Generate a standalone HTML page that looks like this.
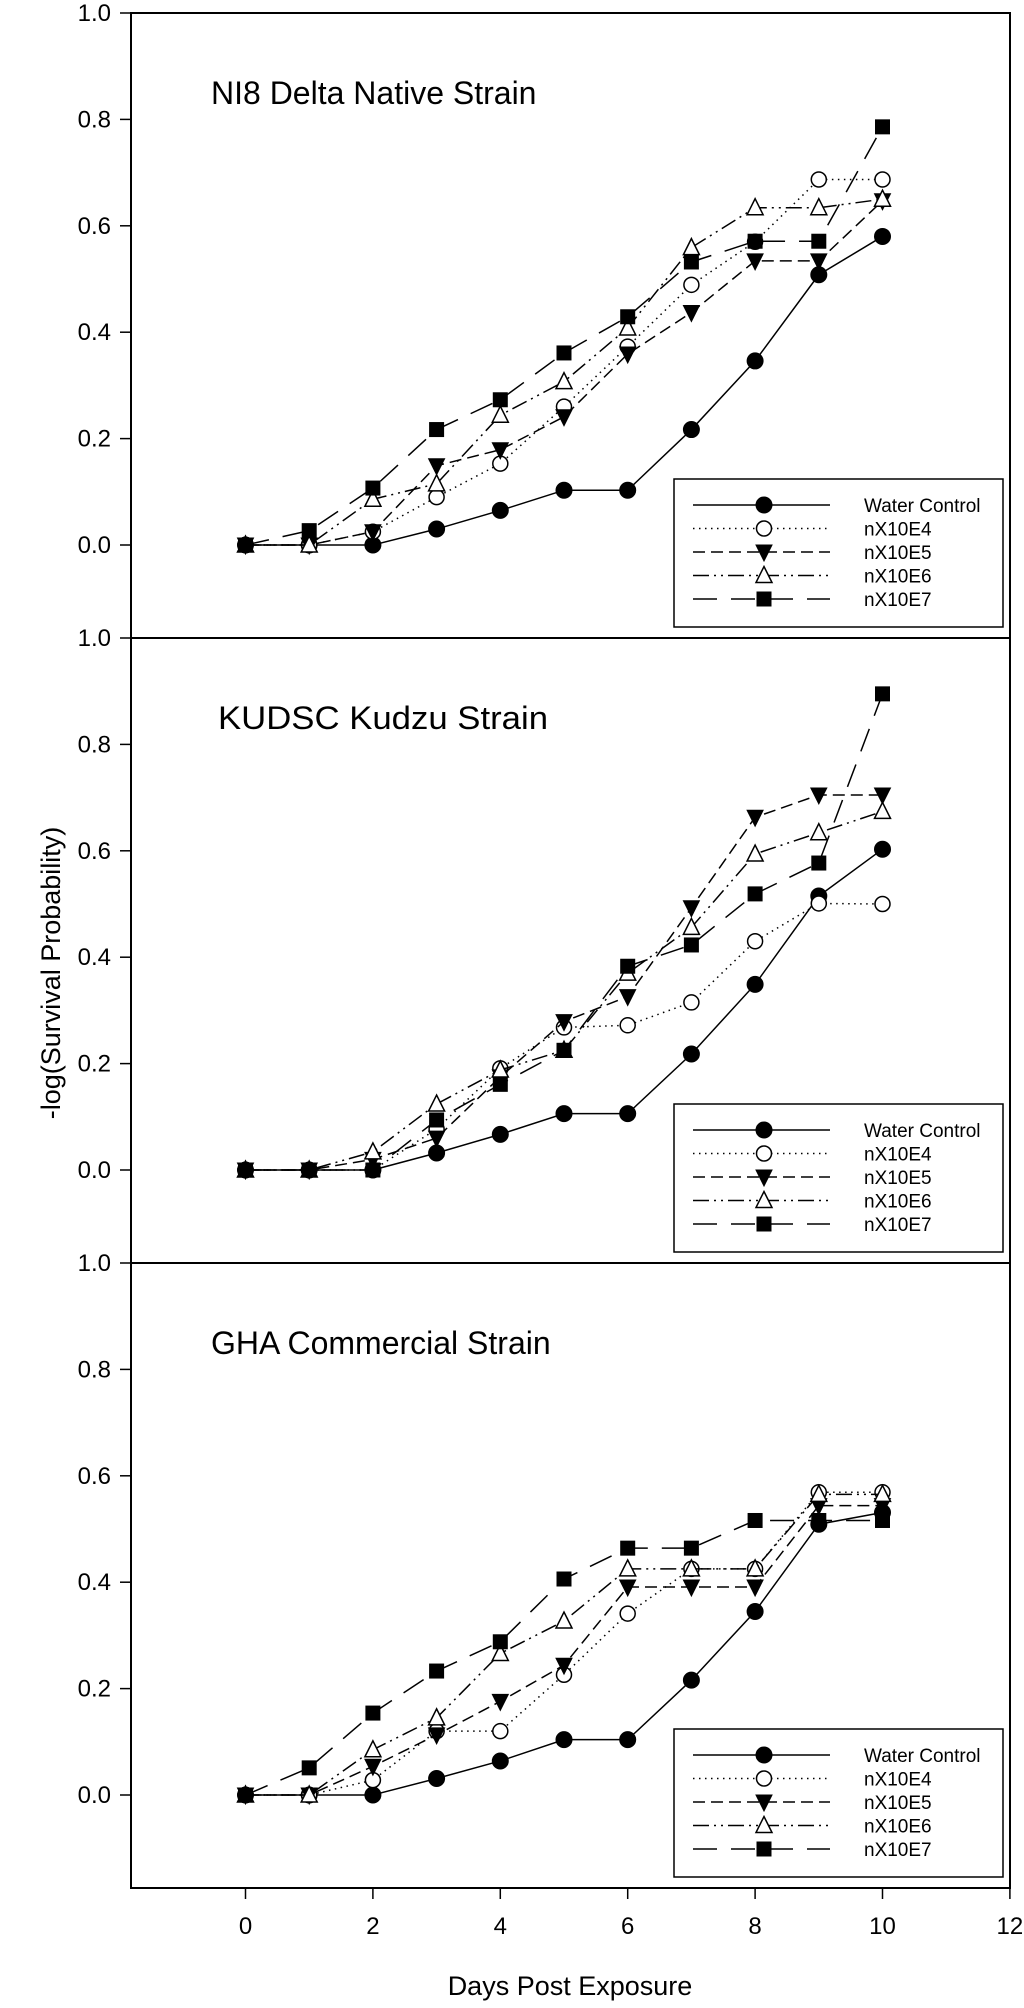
<!DOCTYPE html>
<html><head><meta charset="utf-8"><style>
html,body{margin:0;padding:0;background:#fff;}
svg{display:block;}
text{font-family:"Liberation Sans",Arial,sans-serif;fill:#000;}
</style></head><body>
<svg id="chart" width="1024" height="2008" viewBox="0 0 1024 2008" xmlns="http://www.w3.org/2000/svg"></svg>
<script>
const days = [0,1,2,3,4,5,6,7,8,9,10];
const seriesNames = ["Water Control","nX10E4","nX10E5","nX10E6","nX10E7"];
const panelTitles = ["NI8 Delta Native Strain","KUDSC Kudzu Strain","GHA Commercial Strain"];
const yTickLabels = ["0.0","0.2","0.4","0.6","0.8","1.0"];
const yTickValues = [0,0.2,0.4,0.6,0.8,1.0];
const xTickLabels = ["0","2","4","6","8","10","12"];
const xTickValues = [0,2,4,6,8,10,12];
// Panel 1: NI8
const p1Water = [0,0,0,0.03,0.065,0.103,0.103,0.217,0.346,0.508,0.58];
const p1E4 = [0,0,0.025,0.09,0.153,0.26,0.373,0.489,0.57,0.687,0.687];
const p1E5 = [0,0,0.025,0.149,0.179,0.241,0.359,0.437,0.534,0.534,0.647];
const p1E6 = [0,0,0.086,0.115,0.244,0.307,0.408,0.559,0.634,0.634,0.65];
const p1E7 = [0,0.027,0.107,0.217,0.273,0.361,0.429,0.532,0.571,0.571,0.786];
// Panel 2: KUDSC
const p2Water = [0,0,0,0.032,0.067,0.106,0.106,0.218,0.349,0.515,0.603];
const p2E4 = [0,0,0,0.077,0.191,0.268,0.272,0.315,0.43,0.501,0.5];
const p2E5 = [0,0,0.02,0.06,0.175,0.279,0.326,0.493,0.663,0.705,0.705];
const p2E6 = [0,0,0.034,0.124,0.188,0.225,0.37,0.456,0.594,0.634,0.674];
const p2E7 = [0,0,0,0.094,0.161,0.225,0.383,0.423,0.519,0.577,0.895];
// Panel 3: GHA
const p3Water = [0,0,0,0.031,0.064,0.104,0.104,0.216,0.345,0.509,0.531];
const p3E4 = [0,0,0.028,0.12,0.12,0.226,0.341,0.425,0.425,0.569,0.569];
const p3E5 = [0,0,0.054,0.113,0.176,0.244,0.391,0.391,0.391,0.544,0.544];
const p3E6 = [0,0,0.085,0.145,0.266,0.327,0.425,0.425,0.425,0.565,0.565];
const p3E7 = [0,0.051,0.154,0.233,0.288,0.406,0.464,0.464,0.516,0.516,0.516];

const panels = [[p1Water,p1E4,p1E5,p1E6,p1E7],[p2Water,p2E4,p2E5,p2E6,p2E7],[p3Water,p3E4,p3E5,p3E6,p3E7]];

const NS="http://www.w3.org/2000/svg";
const svg=document.getElementById('chart');
const L=131,R=1010,X0=245.5,DX=63.7;
const PT=[13,638,1263], PH=625, UNIT=532;
const dashes=["none","1.5,4.5","12,6","16,5,2,5,2,5","24,14"];
const markers=["circle-filled","circle-open","tri-down","tri-up","square"];
const titleX=[211,218,211];
function xs(v){return X0+v*DX;}
function ys(p,v){return PT[p]+UNIT-v*UNIT;}
function mk(tag,attrs,parent){const e=document.createElementNS(NS,tag);for(const k in attrs)e.setAttribute(k,attrs[k]);(parent||svg).appendChild(e);return e;}
function marker(type,x,y,g){
  let e;
  if(type==="circle-filled"){e=mk('circle',{cx:x,cy:y,r:8,fill:'#000',stroke:'#000','stroke-width':1},g);}
  else if(type==="circle-open"){e=mk('circle',{cx:x,cy:y,r:7.5,fill:'#fff',stroke:'#000','stroke-width':1.5},g);}
  else if(type==="tri-down"){e=mk('polygon',{points:`${x-8},${y-7} ${x+8},${y-7} ${x},${y+9}`,fill:'#000',stroke:'#000','stroke-width':1},g);}
  else if(type==="tri-up"){e=mk('polygon',{points:`${x-8},${y+7} ${x+8},${y+7} ${x},${y-9}`,fill:'#fff',stroke:'#000','stroke-width':1.5},g);}
  else {e=mk('rect',{x:x-7.5,y:y-7.5,width:15,height:15,fill:'#000'},g);}
  return e;
}
const frame=mk('rect',{x:L,y:PT[0],width:R-L,height:PT[2]+PH-PT[0],fill:'none',stroke:'#000','stroke-width':2});


for(let p=1;p<3;p++){
  const sep=mk('line',{x1:L,x2:R,y1:PT[p],y2:PT[p],stroke:'#000','stroke-width':2});
  
  
}
for(let p=0;p<3;p++){
  const g=mk('g',{});
  
  
  yTickValues.forEach((v,i)=>{
    const y=ys(p,v);
    const t=mk('line',{x1:120,x2:L,y1:y,y2:y,stroke:'#000','stroke-width':1.5},g);
    
    
    const tl=mk('text',{x:111,y:y+8,'font-size':24,'text-anchor':'end'},g);
    tl.textContent=yTickLabels[i];
    
    
  });
  const tt=mk('text',{x:titleX[p],y:PT[p]+91,'font-size':32},g);
  if(p===1){tt.setAttribute('textLength','330');tt.setAttribute('lengthAdjust','spacingAndGlyphs');}
  tt.textContent=panelTitles[p];
  
  
  panels[p].forEach((vals,s)=>{
    const sg=mk('g',{},g);
    
    
    const pts=vals.map((v,i)=>xs(days[i])+','+ys(p,v)).join(' ');
    const pl=mk('polyline',{points:pts,fill:'none',stroke:'#000','stroke-width':1.5},sg);
    if(dashes[s]!=="none")pl.setAttribute('stroke-dasharray',dashes[s]);
    
    
    vals.forEach((v,i)=>{
      const m=marker(markers[s],xs(days[i]),ys(p,v),sg);
      
      
    });
  });
  const lg=mk('g',{},g);
  
  
  const lt=PT[p]+466;
  mk('rect',{x:674,y:lt,width:329,height:148,fill:'#fff',stroke:'#000','stroke-width':1.5},lg);
  seriesNames.forEach((n,s)=>{
    const y=lt+26+23.5*s;
    const e=mk('g',{},lg);
    
    
    const ln=mk('line',{x1:693,x2:830,y1:y,y2:y,stroke:'#000','stroke-width':1.5},e);
    if(dashes[s]!=="none")ln.setAttribute('stroke-dasharray',dashes[s]);
    marker(markers[s],764,y,e);
    const tx=mk('text',{x:864,y:y+7,'font-size':19},e);
    tx.textContent=n;
  });
}
const bottom=PT[2]+PH;
xTickValues.forEach((v,i)=>{
  const x=xs(v);
  const t=mk('line',{x1:x,x2:x,y1:bottom,y2:bottom+11,stroke:'#000','stroke-width':1.5});
  
  
  const tl=mk('text',{x:x,y:1934,'font-size':24,'text-anchor':'middle'});
  tl.textContent=xTickLabels[i];
  
  
});
const xt=mk('text',{x:570,y:1995,'font-size':27,'text-anchor':'middle'});
xt.textContent="Days Post Exposure";


const yt=mk('text',{x:0,y:0,'font-size':27,'text-anchor':'middle',transform:'translate(60,973) rotate(-90)'});
yt.textContent="-log(Survival Probability)";


</script>
</body></html>
